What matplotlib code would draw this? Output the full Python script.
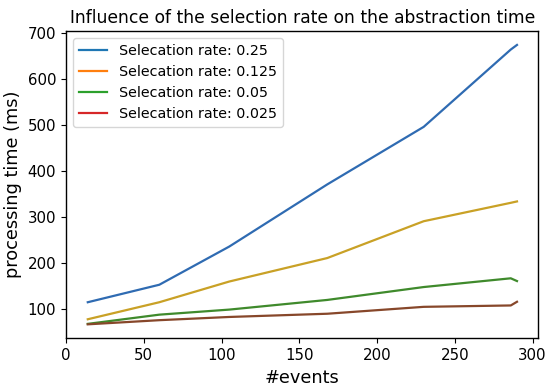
import matplotlib
matplotlib.use("Agg")
import matplotlib.pyplot as plt
from matplotlib.lines import Line2D

###### DATA ######
events = [14, 60, 105, 168, 230, 286, 290]
rate_025 = [114, 152, 235, 370, 495, 663, 673]
rate_0125 = [77, 114, 159, 210, 290, 330, 333]
rate_005 = [67, 87, 98, 119, 147, 166, 160]
rate_0025 = [66, 75, 82, 89, 104, 107, 115]

labels = ["Selecation rate: 0.25", "Selecation rate: 0.125",
          "Selecation rate: 0.05", "Selecation rate: 0.025"]
legend_colors = ["#1f77b4", "#ff7f0e", "#2ca02c", "#d62728"]
# colours the lines actually show up with in the picture
line_colors = ["#2f6bb2", "#c9a126", "#3f8a2c", "#87472a"]

###### PLOT ######
fig = plt.figure(figsize=(5.5, 3.92), dpi=100)
ax = fig.add_axes([0.12, 0.137, 0.859, 0.784])

for ys, c in zip([rate_025, rate_0125, rate_005, rate_0025], line_colors):
    ax.plot(events, ys, color=c, linewidth=1.6)

handles = [Line2D([], [], color=c, linewidth=1.6) for c in legend_colors]
ax.legend(handles, labels, loc="upper left", fontsize=10.3)

ax.set_title("Influence of the selection rate on the abstraction time", fontsize=12.3)
ax.set_xlabel("#events", fontsize=12.8)
ax.set_ylabel("processing time (ms)", fontsize=12.8)
ax.set_xticks([0, 50, 100, 150, 200, 250, 300])
ax.set_yticks([100, 200, 300, 400, 500, 600, 700])
ax.tick_params(labelsize=10.8)
for s in ax.spines.values():
    s.set_linewidth(1.0)

fig.savefig("out.png", dpi=100)
